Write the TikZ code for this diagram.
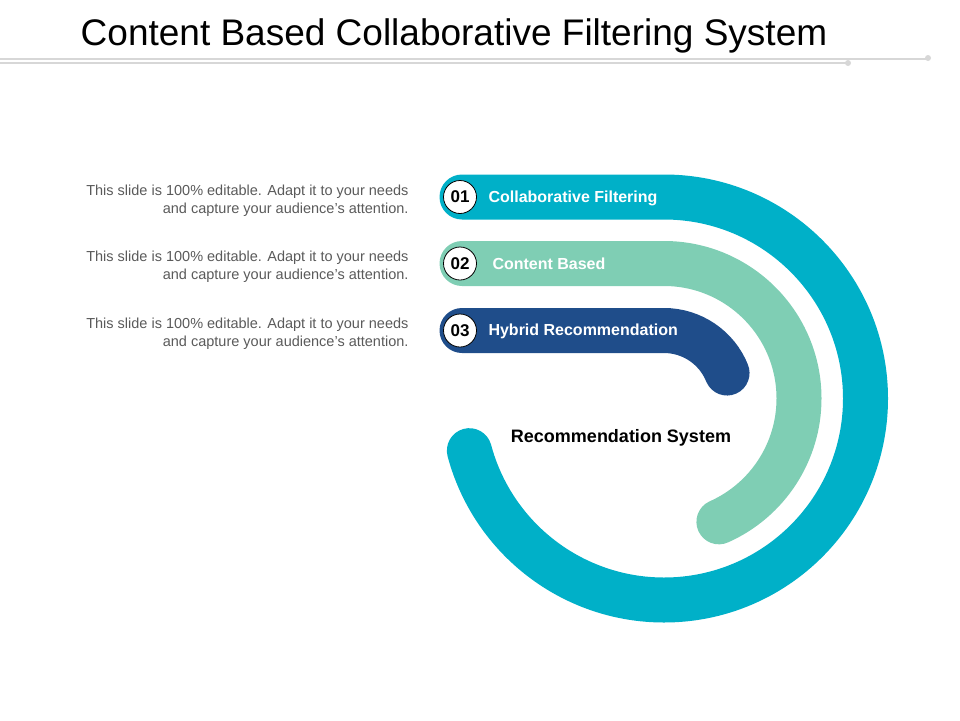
\documentclass[tikz,border=0pt]{standalone}
\usepackage{fontspec}
\setmainfont{Liberation Sans}
\definecolor{cteal}{RGB}{0,176,200}
\definecolor{cgreen}{RGB}{127,206,180}
\definecolor{cnavy}{RGB}{31,77,138}
\definecolor{cgray}{RGB}{215,215,215}
\definecolor{ctext}{RGB}{90,90,90}
\begin{document}
\begin{tikzpicture}[x=1pt,y=-1pt,
  band/.style={line width=45pt,line cap=round},
  num/.style={circle,draw=black,line width=0.8pt,fill=white,minimum size=33pt,inner sep=0pt,font=\fontsize{17}{17}\selectfont\bfseries},
  lbl/.style={anchor=west,text=white,font=\fontsize{16}{18}\selectfont\bfseries},
  desc/.style={anchor=east,align=right,text=ctext,font=\fontsize{14.5}{18}\selectfont}]
\useasboundingbox (0,0) rectangle (960,720);
\node[anchor=center,font=\fontsize{37}{40}\selectfont] (title) at (454,36) {Content Based Collaborative Filtering System};
\draw[cgray,line width=1.5pt] (0,59) -- (928,59);
\draw[cgray,line width=1.5pt] (0,63) -- (848,63);
\fill[cgray] (928,58) circle (3pt);
\fill[cgray] (848,63) circle (3pt);
% bands (center 664,398.5)
\draw[band,cteal] (462,197) -- (664,197) arc[start angle=-90,end angle=165,radius=201.5];
\draw[band,cgreen] (462,263.5) -- (664,263.5) arc[start angle=-90,end angle=66,radius=135];
\draw[band,cnavy] (462,330.5) -- (664,330.5) arc[start angle=-90,end angle=-22,radius=68];
\node[num] (n1) at (460,197) {01};
\node[num] (n2) at (460,263.5) {02};
\node[num] (n3) at (460,330.5) {03};
\node[lbl] (l1) at (485,198) {Collaborative Filtering};
\node[lbl] (l2) at (489,264) {Content Based};
\node[lbl] (l3) at (485,331.5) {Hybrid Recommendation};
\node[font=\fontsize{18}{20}\selectfont\bfseries] (rs) at (621,438) {Recommendation System};
\node[desc] (d1) at (412,201) {This slide is 100\% editable. Adapt it to your needs\\and capture your audience's attention.};
\node[desc] (d2) at (412,267) {This slide is 100\% editable. Adapt it to your needs\\and capture your audience's attention.};
\node[desc] (d3) at (412,334) {This slide is 100\% editable. Adapt it to your needs\\and capture your audience's attention.};
\end{tikzpicture}
\end{document}
